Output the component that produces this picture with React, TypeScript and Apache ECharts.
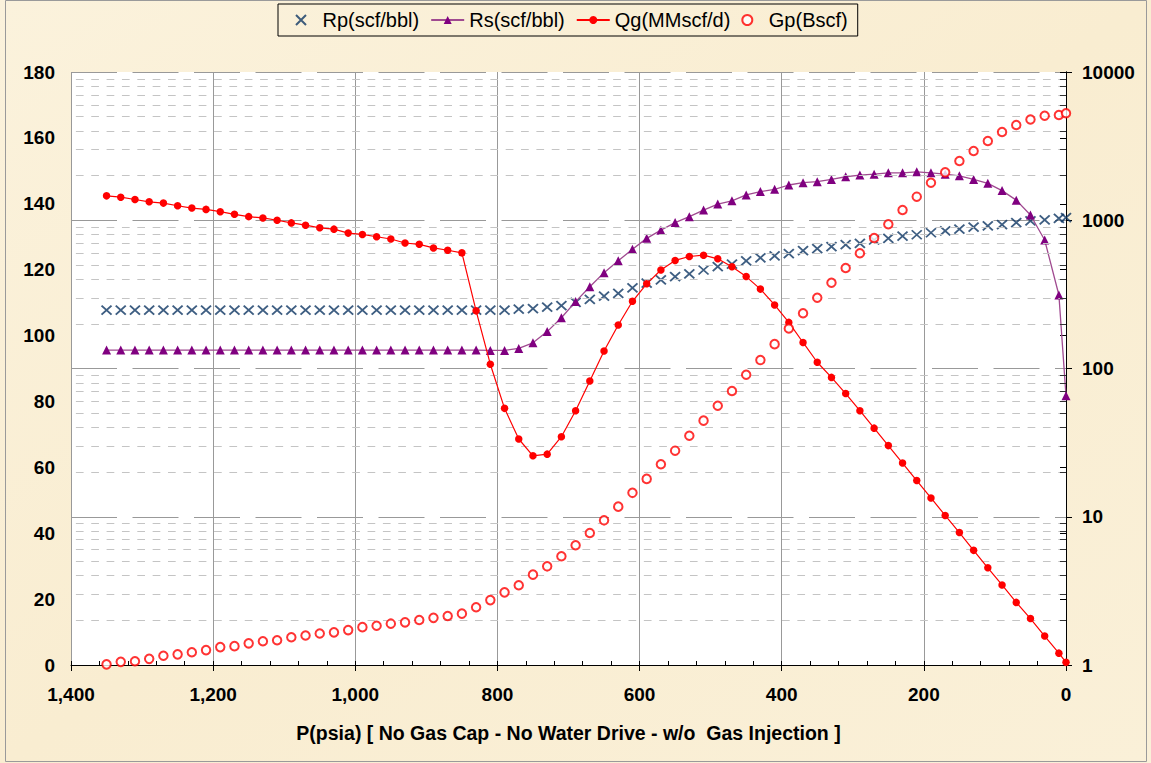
import React, { useEffect, useRef } from "react";
import * as echarts from "echarts";

// Pressure steps (psia)
const P: number[] = [
  1350, 1330, 1310, 1290, 1270, 1250, 1230, 1210, 1190, 1170,
  1150, 1130, 1110, 1090, 1070, 1050, 1030, 1010, 990, 970,
  950, 930, 910, 890, 870, 850, 830, 810, 790, 770,
  750, 730, 710, 690, 670, 650, 630, 610, 590, 570,
  550, 530, 510, 490, 470, 450, 430, 410, 390, 370,
  350, 330, 310, 290, 270, 250, 230, 210, 190, 170,
  150, 130, 110, 90, 70, 50, 30, 10, 0,
];

// Rp (scf/bbl) - left axis
const RP: number[] = [
  107.7, 107.7, 107.7, 107.7, 107.7, 107.7, 107.7, 107.7, 107.7, 107.7,
  107.7, 107.7, 107.7, 107.7, 107.7, 107.7, 107.7, 107.7, 107.7, 107.7,
  107.7, 107.7, 107.7, 107.7, 107.7, 107.7, 107.7, 107.7, 107.7, 108.0,
  108.2, 108.6, 109.1, 110.1, 111.0, 112.0, 112.8, 114.5, 115.9, 116.9,
  117.9, 118.7, 119.9, 120.9, 121.7, 122.7, 123.6, 124.2, 124.9, 125.8,
  126.4, 127.0, 127.6, 128.0, 129.0, 129.5, 130.2, 130.6, 131.2, 131.8,
  132.3, 132.9, 133.3, 133.7, 134.3, 134.8, 135.1, 135.6, 135.8,
];

// Rs (scf/bbl) - left axis
const RS: number[] = [
  95.6, 95.6, 95.6, 95.6, 95.6, 95.6, 95.6, 95.6, 95.6, 95.6,
  95.6, 95.6, 95.6, 95.6, 95.6, 95.6, 95.6, 95.6, 95.6, 95.6,
  95.6, 95.6, 95.6, 95.6, 95.6, 95.6, 95.6, 95.5, 95.5, 96.1,
  97.8, 101.2, 105.4, 110.3, 114.8, 119.1, 122.7, 126.2, 129.5, 132.0,
  134.3, 136.1, 138.1, 139.9, 140.9, 142.7, 143.7, 144.4, 145.7, 146.4,
  146.7, 147.4, 148.2, 148.7, 149.0, 149.4, 149.4, 149.7, 149.4, 149.0,
  148.5, 147.4, 146.2, 144.0, 141.1, 136.6, 129.0, 112.3, 81.7,
];

// Qg (MMscf/d) - left axis
const QG: number[] = [
  142.4, 142.0, 141.3, 140.6, 140.2, 139.4, 138.7, 138.3, 137.6, 136.8,
  136.1, 135.7, 135.0, 134.2, 133.5, 132.7, 132.3, 131.1, 130.7, 130.0,
  129.3, 128.1, 127.7, 126.6, 125.9, 125.1, 107.5, 91.3, 77.9, 68.6,
  63.5, 64.0, 69.3, 77.2, 86.2, 95.3, 103.2, 110.4, 115.7, 119.9,
  122.8, 124.0, 124.4, 123.3, 120.9, 117.9, 114.1, 109.3, 104.0, 97.9,
  91.9, 87.3, 82.4, 77.2, 71.9, 66.6, 61.3, 56.0, 50.7, 45.4,
  40.2, 34.8, 29.5, 24.3, 19.0, 14.1, 8.8, 3.6, 0.8,
];

// Gp (Bscf) - right log axis
const GP: number[] = [
  1.01, 1.05, 1.06, 1.10, 1.155, 1.18, 1.22, 1.26, 1.32, 1.34,
  1.40, 1.445, 1.47, 1.54, 1.58, 1.63, 1.66, 1.72, 1.80, 1.84,
  1.90, 1.94, 2.01, 2.08, 2.14, 2.22, 2.45, 2.74, 3.09, 3.45,
  4.07, 4.63, 5.41, 6.42, 7.77, 9.46, 11.7, 14.5, 18.0, 22.6,
  27.9, 35.2, 44.5, 56.1, 70.5, 90.8, 114, 146, 186, 236,
  300, 379, 476, 599, 759, 939, 1173, 1442, 1792, 2105,
  2510, 2932, 3424, 3938, 4391, 4781, 5073, 5129, 5265,
];

// Minor log grid values on the right axis
const LOG_MINOR: number[] = [
  2, 3, 4, 5, 6, 7, 8, 9,
  20, 30, 40, 50, 60, 70, 80, 90,
  200, 300, 400, 500, 600, 700, 800, 900,
  2000, 3000, 4000, 5000, 6000, 7000, 8000, 9000,
];

const SERIES_NAMES = ["Rp(scf/bbl)", "Rs(scf/bbl)", "Qg(MMscf/d)", "Gp(Bscf)"];
const X_TITLE = "P(psia) [ No Gas Cap - No Water Drive - w/o  Gas Injection ]";

const FONT = "'Liberation Sans', Arial, Helvetica, sans-serif";

export default function App() {
  const ref = useRef<HTMLDivElement>(null);

  useEffect(() => {
    if (!ref.current) return;
    const chart = echarts.init(ref.current, undefined, { renderer: "svg" });
    const pair = (vals: number[]) => P.map((p, i) => [p, vals[i]]);

    const option: any = {
      animation: false,
      backgroundColor: {
        type: "linear",
        x: 0,
        y: 0,
        x2: 1,
        y2: 1,
        colorStops: [
          { offset: 0, color: "#FBF2DC" },
          { offset: 0.5, color: "#F9EDD1" },
          { offset: 1, color: "#FAF0D8" },
        ],
      },
      graphic: [
        {
          type: "rect",
          shape: { x: 5.5, y: 0.5, width: 1141, height: 761 },
          style: { fill: "none", stroke: "#9A9A9A", lineWidth: 1 },
          silent: true,
        },
      ],
      grid: {
        left: 71,
        right: 85,
        top: 72,
        bottom: 98,
        show: true,
        backgroundColor: "#FFFFFF",
        borderWidth: 0,
      },
      legend: {
        data: SERIES_NAMES,
        left: 278,
        top: 4,
        padding: [6, 10, 6, 17],
        itemGap: 11,
        itemWidth: 33,
        itemHeight: 10,
        borderColor: "#000",
        borderWidth: 1,
        textStyle: { fontSize: 20, color: "#000", fontFamily: FONT },
      },
      xAxis: [
        {
          type: "value",
          inverse: true,
          min: 0,
          max: 1400,
          interval: 200,
          axisLine: { show: true, lineStyle: { color: "#000", width: 1 } },
          axisTick: { show: true, length: 6, lineStyle: { color: "#000" } },
          axisLabel: {
            formatter: (v: number) => Math.round(v).toLocaleString("en-US"),
            fontSize: 19,
            fontWeight: "bold",
            color: "#000",
            fontFamily: FONT,
            margin: 20,
          },
          splitLine: { show: true, lineStyle: { color: "#999", width: 1 } },
          name: X_TITLE,
          nameLocation: "middle",
          nameGap: 58,
          nameTextStyle: { fontSize: 19.5, fontWeight: "bold", color: "#000", fontFamily: FONT },
        },
        {
          type: "value",
          inverse: true,
          min: 0,
          max: 1400,
          interval: 40,
          position: "bottom",
          axisLine: { show: false },
          axisLabel: { show: false },
          axisTick: { show: true, inside: true, length: 4, lineStyle: { color: "#000" } },
          splitLine: { show: false },
        },
      ],
      yAxis: [
        {
          type: "value",
          min: 0,
          max: 180,
          interval: 20,
          position: "left",
          axisLine: { show: true, lineStyle: { color: "#000", width: 1 } },
          axisTick: { show: true, length: 6, lineStyle: { color: "#000" } },
          axisLabel: { fontSize: 19, fontWeight: "bold", color: "#000", fontFamily: FONT, margin: 16 },
          splitLine: { show: false },
        },
        {
          type: "log",
          logBase: 10,
          min: 1,
          max: 10000,
          position: "right",
          axisLine: { show: true, lineStyle: { color: "#000", width: 1 } },
          axisTick: { show: true, length: 6, lineStyle: { color: "#000" } },
          axisLabel: {
            fontSize: 19,
            fontWeight: "bold",
            color: "#000",
            fontFamily: FONT,
            margin: 16,
            formatter: (v: number) => String(Math.round(v)),
          },
          splitLine: { show: true, lineStyle: { color: "#999", width: 1, type: [46, 15.5] } },
        },
      ],
      series: [
        {
          name: "minor-grid",
          type: "line",
          xAxisIndex: 0,
          yAxisIndex: 1,
          data: [],
          z: 1,
          silent: true,
          markLine: {
            silent: true,
            symbol: ["none", "none"],
            label: { show: false },
            lineStyle: { color: "#C4C4C4", width: 1, type: [7.7, 7.65] },
            data: LOG_MINOR.map((v) => ({ yAxis: v })),
          },
        },
        {
          name: "minor-ticks",
          type: "line",
          xAxisIndex: 0,
          yAxisIndex: 1,
          data: [],
          z: 1,
          silent: true,
          markLine: {
            silent: true,
            symbol: ["none", "none"],
            label: { show: false },
            lineStyle: { color: "#333", width: 1, type: "solid" },
            data: LOG_MINOR.map((v) => [{ coord: [8.5, v] }, { coord: [0, v] }]),
          },
        },
        {
          name: SERIES_NAMES[0],
          type: "scatter",
          xAxisIndex: 0,
          yAxisIndex: 0,
          z: 3,
          data: pair(RP),
          symbol: "path://M0,0L10,10M10,0L0,10",
          symbolSize: [10, 9],
          itemStyle: { color: "#0E3663", borderColor: "#0E3663", borderWidth: 1.8 },
        },
        {
          name: SERIES_NAMES[1],
          type: "line",
          xAxisIndex: 0,
          yAxisIndex: 0,
          z: 4,
          data: pair(RS),
          symbol: "triangle",
          symbolSize: 9,
          showSymbol: true,
          lineStyle: { color: "#A04A90", width: 1.3 },
          itemStyle: { color: "#800080" },
        },
        {
          name: SERIES_NAMES[2],
          type: "line",
          xAxisIndex: 0,
          yAxisIndex: 0,
          z: 5,
          data: pair(QG),
          symbol: "circle",
          symbolSize: 7.5,
          showSymbol: true,
          lineStyle: { color: "#FF0000", width: 1.2 },
          itemStyle: { color: "#FF0000" },
        },
        {
          name: SERIES_NAMES[3],
          type: "scatter",
          xAxisIndex: 0,
          yAxisIndex: 1,
          z: 6,
          data: pair(GP),
          symbol: "emptyCircle",
          symbolSize: 8.5,
          itemStyle: { color: "#FF0000", borderColor: "#FF0000", borderWidth: 1.5 },
        },
      ],
    };

    chart.setOption(option);
    return () => {
      chart.dispose();
    };
  }, []);

  return (
    <div
      ref={ref}
      style={{ position: "fixed", left: 0, top: 0, width: 1151, height: 763 }}
    />
  );
}
